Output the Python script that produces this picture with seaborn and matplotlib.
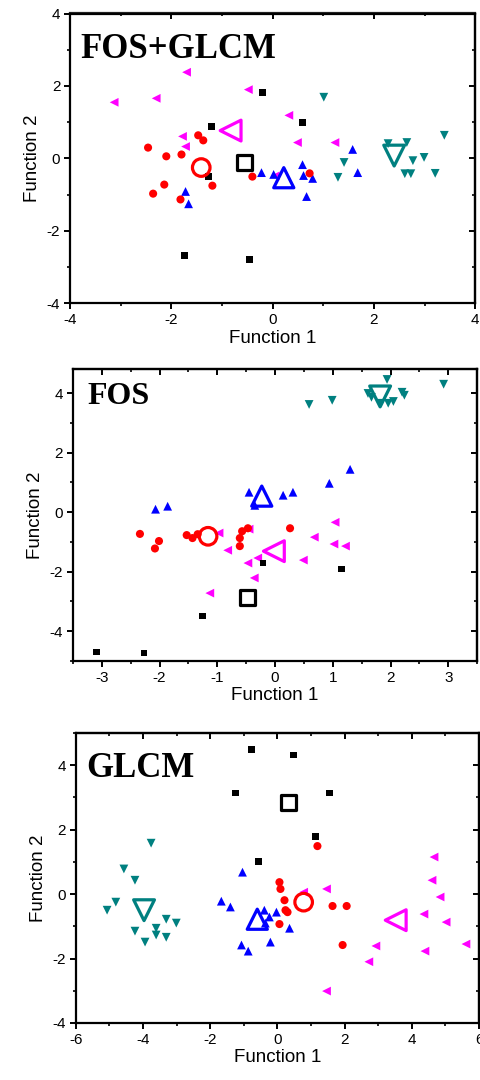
import matplotlib
matplotlib.use('Agg')
import matplotlib.pyplot as plt
import seaborn as sns
import pandas as pd
from matplotlib.ticker import MultipleLocator, NullFormatter

sns.set_theme(style='ticks')
plt.rcParams['font.family'] = ['Liberation Sans', 'DejaVu Sans']
plt.rcParams['axes.unicode_minus'] = False
plt.rcParams['text.color'] = 'black'
plt.rcParams['axes.labelcolor'] = 'black'
plt.rcParams['xtick.color'] = 'black'
plt.rcParams['ytick.color'] = 'black'

groups = ['left', 'up', 'circle', 'square', 'down']
markers = {'square': 's', 'circle': 'o', 'up': '^', 'down': 'v', 'left': '<'}
colors = {'square': '#000000', 'circle': '#ff0000', 'up': '#0000ff',
          'down': '#008080', 'left': '#ff00ff'}

# ---- FOS+GLCM ----
p1_square_x = [-0.20, -1.21, 0.59, -1.27, -1.74, -0.46]
p1_square_y = [1.82, 0.88, 1.00, -0.50, -2.68, -2.79]
p1_circle_x = [-2.46, -2.10, -1.80, -1.47, -1.37, -2.14, -2.36, -1.82, -1.19, -0.40, 0.73]
p1_circle_y = [0.30, 0.06, 0.11, 0.64, 0.50, -0.72, -0.97, -1.13, -0.75, -0.50, -0.41]
p1_up_x = [-1.72, -1.66, -0.22, 0.02, 0.59, 0.61, 0.79, 0.67, 1.58, 1.68]
p1_up_y = [-0.91, -1.25, -0.39, -0.44, -0.17, -0.47, -0.55, -1.05, 0.25, -0.39]
p1_down_x = [1.01, 1.41, 1.29, 2.28, 2.65, 2.77, 2.99, 2.61, 2.73, 3.21, 3.39]
p1_down_y = [1.69, -0.11, -0.52, 0.41, 0.44, -0.06, 0.03, -0.42, -0.42, -0.41, 0.64]
p1_left_x = [-3.13, -2.30, -1.70, -1.78, -1.72, -0.48, 0.32, 0.49, 1.23, 0.05]
p1_left_y = [1.55, 1.66, 2.38, 0.61, 0.33, 1.90, 1.19, 0.44, 0.44, -0.48]
p1_cent_x = {'square': -0.55, 'circle': -1.41, 'up': 0.22, 'down': 2.40, 'left': -0.83}
p1_cent_y = {'square': -0.11, 'circle': -0.25, 'up': -0.53, 'down': 0.08, 'left': 0.77}

# ---- FOS ----
p2_square_x = [-3.09, -2.27, -1.25, -0.21, 1.15]
p2_square_y = [-4.70, -4.73, -3.49, -1.71, -1.91]
p2_circle_x = [-2.34, -2.01, -2.08, -1.53, -1.43, -1.34, -0.57, -0.47, -0.61, -0.61, 0.26]
p2_circle_y = [-0.73, -0.97, -1.22, -0.77, -0.87, -0.74, -0.64, -0.54, -0.87, -1.14, -0.54]
p2_up_x = [-2.07, -1.86, -0.45, -0.35, 0.14, 0.31, 0.94, 1.30]
p2_up_y = [0.10, 0.20, 0.67, 0.23, 0.57, 0.67, 0.97, 1.44]
p2_down_x = [0.59, 0.99, 1.94, 1.61, 1.67, 1.96, 2.05, 2.20, 2.24, 2.92, 1.82]
p2_down_y = [3.62, 3.76, 4.46, 3.99, 3.86, 3.66, 3.72, 4.03, 3.93, 4.30, 3.66]
p2_left_x = [-0.97, -0.82, -0.45, -0.47, -0.30, -0.36, -1.13, 0.49, 1.04, 0.68, 1.02, 1.22]
p2_left_y = [-0.70, -1.28, -0.57, -1.71, -1.54, -2.21, -2.72, -1.61, -0.34, -0.84, -1.07, -1.14]
p2_cent_x = {'square': -0.47, 'circle': -1.16, 'up': -0.23, 'down': 1.82, 'left': -0.02}
p2_cent_y = {'square': -2.87, 'circle': -0.81, 'up': 0.54, 'down': 3.89, 'left': -1.31}

# ---- GLCM ----
p3_square_x = [-0.78, 0.48, 1.55, 1.13, -0.57, -1.25]
p3_square_y = [4.50, 4.32, 3.14, 1.80, 1.02, 3.14]
p3_circle_x = [1.19, 0.06, 0.09, 0.21, 0.24, 0.30, 0.06, 1.64, 2.06, 1.94]
p3_circle_y = [1.49, 0.37, 0.16, -0.19, -0.50, -0.56, -0.93, -0.37, -0.37, -1.58]
p3_up_x = [-1.04, -1.67, -1.40, -0.39, -0.24, -0.03, 0.36, -0.36, -1.07, -0.87, -0.21]
p3_up_y = [0.68, -0.22, -0.40, -0.50, -0.71, -0.56, -1.06, -0.90, -1.58, -1.77, -1.49]
p3_down_x = [-3.76, -4.57, -4.24, -4.81, -5.07, -4.24, -3.94, -3.61, -3.61, -3.31, -3.31, -3.01]
p3_down_y = [1.58, 0.78, 0.43, -0.25, -0.50, -1.15, -1.49, -1.06, -1.27, -0.78, -1.34, -0.90]
p3_left_x = [1.46, 1.46, 2.93, 2.72, 4.39, 4.36, 4.66, 4.60, 4.84, 5.02, 5.61, 0.78]
p3_left_y = [0.16, -3.01, -1.61, -2.10, -1.77, -0.62, 1.15, 0.43, -0.09, -0.87, -1.55, 0.06]
p3_cent_x = {'square': 0.33, 'circle': 0.78, 'up': -0.60, 'down': -3.97, 'left': 3.52}
p3_cent_y = {'square': 2.83, 'circle': -0.25, 'up': -0.78, 'down': -0.50, 'left': -0.81}

small_size = {'square': 24, 'circle': 34, 'up': 40, 'down': 40, 'left': 40}
big_size = {'square': 115, 'circle': 160, 'up': 210, 'down': 225, 'left': 225}


def make_df(pts):
    rows = []
    for g in groups:
        xs, ys = pts[g]
        for x, y in zip(xs, ys):
            rows.append({'x': x, 'y': y, 'group': g})
    return pd.DataFrame(rows)


panels = [
    dict(title='FOS+GLCM', fs=25, tx=0.025, ty=0.847,
         rect=[0.146, 0.719, 0.844, 0.2685],
         xlim=(-4, 4), ylim=(-4, 4), xmaj=2, xmin=1, ymaj=2, ymin=1,
         pts={'square': (p1_square_x, p1_square_y), 'circle': (p1_circle_x, p1_circle_y),
              'up': (p1_up_x, p1_up_y), 'down': (p1_down_x, p1_down_y),
              'left': (p1_left_x, p1_left_y)},
         cx=p1_cent_x, cy=p1_cent_y),
    dict(title='FOS', fs=23, tx=0.035, ty=0.880,
         rect=[0.152, 0.388, 0.842, 0.270],
         xlim=(-3.5, 3.5), ylim=(-5, 4.8), xmaj=1, xmin=0.5, ymaj=2, ymin=1,
         pts={'square': (p2_square_x, p2_square_y), 'circle': (p2_circle_x, p2_circle_y),
              'up': (p2_up_x, p2_up_y), 'down': (p2_down_x, p2_down_y),
              'left': (p2_left_x, p2_left_y)},
         cx=p2_cent_x, cy=p2_cent_y),
    dict(title='GLCM', fs=25, tx=0.025, ty=0.848,
         rect=[0.158, 0.0528, 0.840, 0.2685],
         xlim=(-6, 6), ylim=(-4, 5), xmaj=2, xmin=1, ymaj=2, ymin=1,
         pts={'square': (p3_square_x, p3_square_y), 'circle': (p3_circle_x, p3_circle_y),
              'up': (p3_up_x, p3_up_y), 'down': (p3_down_x, p3_down_y),
              'left': (p3_left_x, p3_left_y)},
         cx=p3_cent_x, cy=p3_cent_y),
]

fig = plt.figure(figsize=(4.8, 10.8), dpi=100)

for p in panels:
    ax = fig.add_axes(p['rect'])
    df = make_df(p['pts'])
    sns.scatterplot(data=df, x='x', y='y', hue='group', style='group',
                    palette=colors, markers=markers, size='group', sizes=small_size,
                    linewidth=0, legend=False, ax=ax)
    for g in groups:
        cdf = pd.DataFrame({'x': [p['cx'][g]], 'y': [p['cy'][g]]})
        sns.scatterplot(data=cdf, x='x', y='y', marker=markers[g], s=big_size[g],
                        facecolor='none', edgecolor=colors[g], linewidth=2.3,
                        legend=False, ax=ax, zorder=5)
    ax.set_xlim(*p['xlim'])
    ax.set_ylim(*p['ylim'])
    ax.xaxis.set_major_locator(MultipleLocator(p['xmaj']))
    ax.xaxis.set_minor_locator(MultipleLocator(p['xmin']))
    ax.yaxis.set_major_locator(MultipleLocator(p['ymaj']))
    ax.yaxis.set_minor_locator(MultipleLocator(p['ymin']))
    ax.tick_params(which='major', direction='out', length=4, width=1.4,
                   labelsize=11, pad=3, colors='black')
    ax.tick_params(which='minor', direction='out', length=2.5, width=1.2)
    for s in ax.spines.values():
        s.set_visible(True)
        s.set_linewidth(1.6)
        s.set_color('black')

    top = ax.secondary_xaxis('top')
    top.xaxis.set_major_locator(MultipleLocator(p['xmaj']))
    top.xaxis.set_minor_locator(MultipleLocator(p['xmin']))
    top.xaxis.set_major_formatter(NullFormatter())
    top.tick_params(which='major', direction='in', length=4, width=1.4)
    top.tick_params(which='minor', direction='in', length=2.5, width=1.2)
    top.spines['top'].set_linewidth(1.6)

    right = ax.secondary_yaxis('right')
    right.yaxis.set_major_locator(MultipleLocator(p['ymaj']))
    right.yaxis.set_minor_locator(MultipleLocator(p['ymin']))
    right.yaxis.set_major_formatter(NullFormatter())
    right.tick_params(which='major', direction='in', length=4, width=1.4)
    right.tick_params(which='minor', direction='in', length=2.5, width=1.2)
    right.spines['right'].set_linewidth(1.6)

    ax.set_xlabel('Function 1', fontsize=13.5, labelpad=2)
    ax.set_ylabel('Function 2', fontsize=13.5, labelpad=4)
    ax.text(p['tx'], p['ty'], p['title'], transform=ax.transAxes,
            fontsize=p['fs'], fontweight='bold', family='Liberation Serif',
            color='black', va='baseline', ha='left')

fig.savefig('out.png', dpi=100)
